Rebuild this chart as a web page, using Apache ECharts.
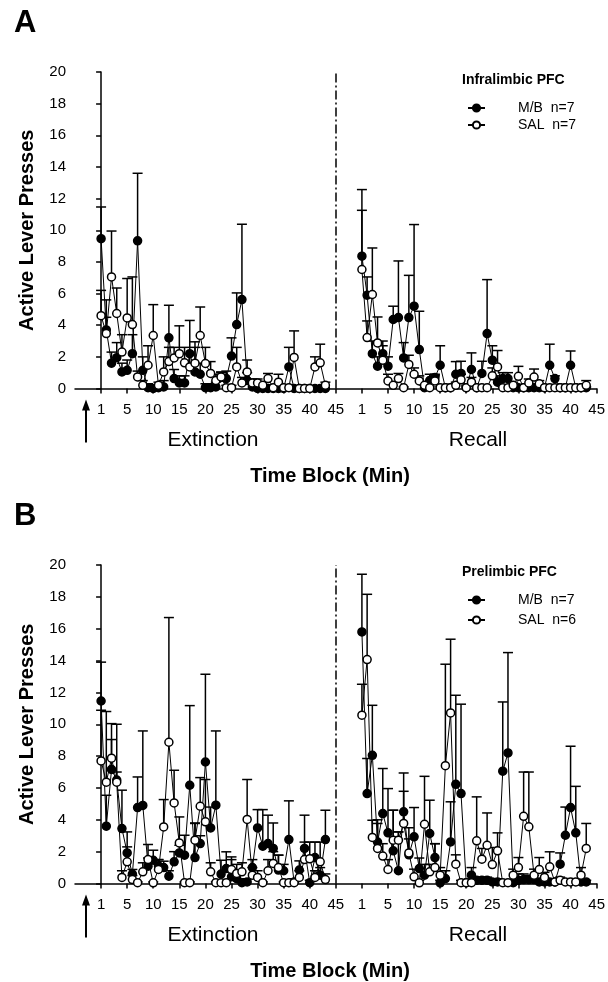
<!DOCTYPE html>
<html>
<head>
<meta charset="utf-8">
<script src="https://cdn.jsdelivr.net/npm/echarts@6.0.0/dist/echarts.min.js"></script>
<style>
  html, body { margin: 0; padding: 0; background: #fff; }
  #chart { width: 608px; height: 982px; }
</style>
</head>
<body>
<div id="chart"></div>
<script>
// time blocks (min) per phase
const blocks = Array.from({ length: 44 }, (_, i) => i + 1);
const tickLabels = ['1', '5', '10', '15', '20', '25', '30', '35', '40', '45'];
const phaseNames = ['Extinction', 'Recall'];

// Panel A - Infralimbic PFC
const extMB_A = [9.47, 3.7, 1.6, 1.95, 1.05, 1.15, 2.2, 9.33, 1.15, 0.05, 0, 0.05, 0.1, 3.2, 0.63, 0.35, 0.35, 2.2, 1.05, 0.9,
  0.05, 0.05, 0.1, 0.7, 0.63, 2.05, 4.04, 5.62, 0.5, 0.1, 0, 0, 0, 0, 0, 0, 1.36, 0, 0, 0, 0, 0, 0, 0];
const extMBHi_A = [11.47, 5.6, 2.3, 2.9, 1.6, 1.8, 3.4, 13.6, 2.0, 0.3, 0.2, 0.2, 0.5, 5.26, 1.2, 0.8, 0.8, 4.3, 2.95, 1.6,
  0.3, 0.3, 0.4, 1.0, 1.1, 3.2, 6.04, 10.38, 1.0, 0.3, 0, 0, 0, 0, 0, 0, 2.6, 0, 0, 0, 0, 0, 0, 0];
const extSAL_A = [4.6, 3.47, 7.05, 4.74, 2.3, 4.46, 4.04, 0.73, 0.2, 1.47, 3.35, 0.2, 1.05, 1.7, 1.93, 2.2, 1.62, 1.36, 1.6, 3.35,
  1.58, 0.95, 0.5, 0.73, 0.05, 0.05, 1.36, 0.35, 1.05, 0.35, 0.35, 0.2, 0.63, 0.05, 0.4, 0.05, 0.05, 1.96, 0, 0, 0, 1.36, 1.62, 0.2];
const extSALHi_A = [6.2, 4.5, 9.95, 6.35, 3.4, 6.95, 7.05, 1.1, 0.5, 2.7, 5.3, 0.4, 2.0, 2.6, 2.6, 3.96, 2.6, 2.2, 2.6, 5.15,
  2.6, 1.7, 0.9, 1.05, 0.2, 0.2, 2.6, 0.7, 1.8, 0.6, 0.6, 0.4, 0.95, 0.2, 0.9, 0.2, 0.2, 3.64, 0, 0, 0, 2.0, 2.8, 0.4];
const recMB_A = [8.36, 5.9, 2.2, 1.41, 2.2, 1.41, 4.36, 4.48, 1.93, 4.48, 5.2, 2.46, 0.05, 0.5, 0.7, 1.47, 0.05, 0.05, 0.9, 0.95,
  0.05, 1.2, 0.05, 0.95, 3.47, 1.79, 0.4, 0.63, 0.63, 0.05, 0.05, 0.05, 0.05, 0.05, 0.05, 0.05, 1.47, 0.63, 0.05, 0.05, 1.47, 0.05, 0.05, 0.05];
const recMBHi_A = [12.57, 7.05, 3.0, 2.0, 3.0, 2.0, 5.2, 8.06, 2.9, 7.15, 10.36, 4.88, 0.2, 0.9, 0.9, 2.7, 0.2, 0.2, 1.7, 1.72,
  0.2, 2.25, 0.2, 1.72, 6.88, 2.7, 0.8, 1.0, 1.0, 0.1, 0.1, 0.1, 0.1, 0.1, 0.1, 0.1, 2.8, 0.8, 0.1, 0.1, 2.37, 0.1, 0.1, 0.1];
const recSAL_A = [7.52, 3.22, 5.94, 2.88, 1.79, 0.48, 0.2, 0.63, 0.05, 1.52, 0.9, 0.48, 0.2, 0.05, 0.48, 0.05, 0.05, 0.05, 0.2, 0.55,
  0.05, 0.4, 0.05, 0.05, 0.05, 0.8, 1.36, 0.05, 0.05, 0.2, 0.77, 0.05, 0.35, 0.72, 0.3, 0.05, 0.05, 0.05, 0.05, 0.05, 0.05, 0.05, 0.05, 0.2];
const recSALHi_A = [11.26, 4.27, 8.88, 4.52, 2.7, 0.9, 0.4, 0.95, 0.1, 2.1, 1.3, 0.8, 0.4, 0.1, 0.8, 0.1, 0.1, 0.1, 0.4, 0.9,
  0.1, 0.7, 0.1, 0.1, 0.1, 1.3, 2.4, 0.1, 0.1, 0.4, 1.4, 0.1, 0.6, 1.23, 0.5, 0.1, 0.1, 0.1, 0.1, 0.1, 0.1, 0.1, 0.1, 0.5];

// Panel B - Prelimbic PFC
const extMB_B = [11.46, 3.6, 7.16, 6.5, 3.45, 1.92, 0.59, 4.77, 4.9, 1.09, 1.46, 1.1, 1.0, 0.46, 1.36, 1.92, 1.78, 6.17, 1.63, 2.51,
  7.63, 3.49, 4.92, 0.59, 0.94, 0.42, 0.3, 0.05, 0.1, 1.0, 3.49, 2.34, 2.51, 2.2, 0.84, 0.8, 2.76, 0.1, 0.84, 2.2, 0.05, 1.63, 0.52, 2.76];
const extMBHi_B = [13.9, 5.54, 9.04, 7.0, 5.86, 3.24, 0.88, 6.69, 9.58, 1.6, 2.09, 1.5, 1.4, 0.8, 2.0, 2.4, 3.03, 11.17, 3.77, 3.0,
  13.14, 4.8, 9.58, 1.46, 1.99, 1.67, 0.6, 0.2, 0.3, 1.5, 4.64, 4.64, 4.29, 3.8, 1.78, 1.2, 5.19, 0.3, 1.42, 4.29, 0.2, 2.6, 1.0, 4.6];
const extSAL_B = [7.7, 6.36, 7.87, 6.36, 0.38, 1.36, 0.25, 0.05, 0.73, 1.5, 0.04, 0.88, 3.55, 8.87, 5.06, 2.55, 0.05, 0.05, 2.72, 4.85,
  3.87, 0.73, 0.05, 0.05, 0.05, 0.88, 0.63, 0.73, 4.02, 0.52, 0.38, 0.05, 0.8, 1.26, 1.0, 0.05, 0.05, 0.05, 0.38, 1.5, 1.55, 0.38, 1.36, 0.25];
const extSALHi_B = [10.88, 10.8, 10.04, 10.0, 0.8, 2.3, 0.5, 0.1, 1.3, 2.45, 0.1, 1.5, 5.27, 16.7, 7.11, 4.18, 0.1, 0.1, 3.8, 6.65,
  6.53, 1.3, 0.1, 0.1, 0.1, 1.5, 1.2, 1.3, 6.53, 1.0, 0.8, 0.1, 1.5, 2.0, 1.78, 0.1, 0.1, 0.1, 0.8, 2.6, 2.6, 0.8, 2.6, 0.6];
const recMB_B = [15.8, 5.65, 8.05, 2.6, 4.39, 3.18, 2.05, 0.8, 4.5, 1.8, 2.93, 0.94, 0.52, 3.14, 1.63, 0.04, 0.31, 2.61, 6.23, 5.65,
  0.05, 0.52, 0.2, 0.2, 0.2, 0.1, 0.1, 7.05, 8.2, 0.05, 0.2, 0.25, 0.25, 0.25, 0.1, 0.1, 0.1, 0.1, 1.21, 3.03, 4.77, 3.18, 0.1, 0.1];
const recMBHi_B = [19.42, 7.85, 11.19, 4.0, 7.22, 5.96, 4.6, 3.24, 6.94, 3.5, 4.77, 1.6, 1.2, 5.23, 2.5, 0.2, 0.8, 5.13, 11.82, 11.26,
  0.2, 1.0, 0.4, 0.4, 0.4, 0.3, 0.3, 11.4, 14.5, 0.2, 0.6, 0.6, 0.5, 0.5, 0.3, 0.3, 0.3, 0.3, 1.92, 4.8, 8.62, 6.1, 0.2, 0.2];
const recSAL_B = [10.57, 14.06, 2.89, 2.2, 1.72, 0.88, 2.72, 2.72, 3.77, 1.92, 0.42, 0.04, 3.72, 0.73, 1.0, 0.52, 7.4, 10.71, 1.21, 0.05,
  0.05, 0.05, 2.68, 1.53, 2.4, 1.19, 2.05, 0.05, 0.05, 0.52, 1.0, 4.22, 3.56, 0.52, 0.88, 0.38, 1.05, 0.1, 0.2, 0.1, 0.1, 0.1, 0.52, 2.2];
const recSALHi_B = [12.51, 18.16, 3.97, 3.77, 2.5, 1.5, 4.6, 3.24, 5.79, 2.8, 0.9, 0.2, 6.73, 1.2, 2.5, 1.0, 13.77, 15.34, 1.8, 0.2,
  0.2, 0.2, 5.44, 2.2, 4.43, 2.26, 3.18, 0.2, 0.2, 0.9, 1.63, 7.0, 7.0, 0.9, 1.63, 0.7, 1.99, 0.3, 0.4, 0.2, 0.2, 0.2, 1.0, 3.77];

const panels = [
  { letter: 'A', region: 'Infralimbic PFC', n: { 'M/B': 7, 'SAL': 7 },
    mb: [extMB_A, recMB_A], mbHi: [extMBHi_A, recMBHi_A], sal: [extSAL_A, recSAL_A], salHi: [extSALHi_A, recSALHi_A] },
  { letter: 'B', region: 'Prelimbic PFC', n: { 'M/B': 7, 'SAL': 6 },
    mb: [extMB_B, recMB_B], mbHi: [extMBHi_B, recMBHi_B], sal: [extSAL_B, recSAL_B], salHi: [extSALHi_B, recSALHi_B] }
];

const FONT = 'Liberation Sans, Arial, sans-serif';
const gridTops = [72, 565];
const gridHeights = [316.5, 318.5];
const legendTops = [96, 588];
const legendGaps = [3, 6];
const recallOffset = 50;   // recall block 1 sits at axis value 50

function xPos(phase, b) { return phase === 0 ? b - 1 : b - 1 + recallOffset; }

const tickValues = [];
[0, 1].forEach(ph => tickLabels.forEach((t, i) => tickValues.push(ph * recallOffset + i * 5)));

function tickText(v) {
  if (v < 0) return '';
  const ph = v >= recallOffset ? 1 : 0;
  return tickLabels[(v - ph * recallOffset) / 5] || '';
}

function renderErr(params, api) {
  const x = api.value(0), y = api.value(1), hi = api.value(2);
  if (!(hi > y)) return null;
  const p0 = api.coord([x, y]);
  const p1 = api.coord([x, hi]);
  const st = { stroke: '#000', lineWidth: 1.5 };
  return {
    type: 'group',
    children: [
      { type: 'line', shape: { x1: p0[0], y1: p0[1], x2: p1[0], y2: p1[1] }, style: st },
      { type: 'line', shape: { x1: p1[0] - 5, y1: p1[1], x2: p1[0] + 5, y2: p1[1] }, style: st }
    ]
  };
}

const series = [];
panels.forEach((p, pi) => {
  const groups = [
    { name: 'M/B', vals: p.mb, hi: p.mbHi, fill: '#000' },
    { name: 'SAL', vals: p.sal, hi: p.salHi, fill: '#fff' }
  ];
  groups.forEach(g => {
    [0, 1].forEach(ph => {
      series.push({
        type: 'custom', xAxisIndex: pi, yAxisIndex: pi, z: 1, silent: true,
        renderItem: renderErr,
        encode: { x: 0, y: [1, 2] },
        data: blocks.map((b, i) => [xPos(ph, b), g.vals[ph][i], g.hi[ph][i]])
      });
    });
  });
  groups.forEach((g, gi) => {
    [0, 1].forEach(ph => {
      const s = {
        name: g.name, type: 'line', xAxisIndex: pi, yAxisIndex: pi, z: 2 + gi,
        symbol: 'circle', symbolSize: 8, showAllSymbol: true,
        lineStyle: { color: '#000', width: 1 },
        itemStyle: { color: g.fill, borderColor: '#000', borderWidth: 1.5 },
        data: blocks.map((b, i) => [xPos(ph, b), g.vals[ph][i]])
      };
      if (gi === 0 && ph === 0) {
        s.markLine = {
          silent: true, symbol: 'none', label: { show: false },
          lineStyle: { color: '#000', width: 1.5, type: [9, 3, 2, 3] },
          data: [{ xAxis: 45 }]
        };
      }
      series.push(s);
    });
  });
});

const graphic = [];
panels.forEach((p, pi) => {
  const top = gridTops[pi];
  const bottom = top + gridHeights[pi];
  graphic.push({ type: 'text', left: 14, top: top - 64, style: { text: p.letter, font: 'bold 31px ' + FONT, fill: '#000' } });
  graphic.push({ type: 'text', left: 462, top: legendTops[pi] - 23, style: { text: p.region, font: 'bold 14px ' + FONT, fill: '#000' } });
  graphic.push({ type: 'text', x: 213, y: bottom + 52, style: { text: phaseNames[0], font: '21px ' + FONT, fill: '#000', align: 'center', verticalAlign: 'middle' } });
  graphic.push({ type: 'text', x: 478, y: bottom + 52, style: { text: phaseNames[1], font: '21px ' + FONT, fill: '#000', align: 'center', verticalAlign: 'middle' } });
  graphic.push({ type: 'text', x: 330, y: bottom + 88, style: { text: 'Time Block (Min)', font: 'bold 20px ' + FONT, fill: '#000', align: 'center', verticalAlign: 'middle' } });
  graphic.push({ type: 'line', shape: { x1: 86, y1: bottom + 54, x2: 86, y2: bottom + 18 }, style: { stroke: '#000', lineWidth: 2 } });
  graphic.push({ type: 'polygon', shape: { points: [[82, bottom + 22], [86, bottom + 11], [90, bottom + 22]] }, style: { fill: '#000' } });
});

const option = {
  animation: false,
  backgroundColor: '#fff',
  textStyle: { fontFamily: FONT },
  grid: [0, 1].map(i => ({ left: 75, top: gridTops[i], width: 522, height: gridHeights[i] })),
  xAxis: [0, 1].map(i => ({
    type: 'value', gridIndex: i, min: -5, max: 95, interval: 5,
    splitLine: { show: false },
    axisLine: { lineStyle: { color: '#000', width: 1.5 } },
    axisTick: { length: 5, lineStyle: { color: '#000', width: 1.5 }, customValues: tickValues },
    axisLabel: { color: '#000', fontSize: 15, margin: 14, formatter: tickText, customValues: tickValues }
  })),
  yAxis: [0, 1].map(i => ({
    type: 'value', gridIndex: i, min: 0, max: 20, interval: 2,
    name: 'Active Lever Presses', nameLocation: 'middle', nameGap: 38,
    nameTextStyle: { color: '#000', fontSize: 20, fontWeight: 'bold' },
    splitLine: { show: false },
    axisLine: { show: true, lineStyle: { color: '#000', width: 1.5 } },
    axisTick: { show: true, length: 5, lineStyle: { color: '#000', width: 1.5 } },
    axisLabel: { color: '#000', fontSize: 15, margin: 9 }
  })),
  legend: panels.map((p, pi) => ({
    left: 462, top: legendTops[pi], orient: 'vertical',
    itemWidth: 17, itemHeight: 9, itemGap: legendGaps[pi],
    data: ['M/B', 'SAL'],
    formatter: name => name + '  n=' + p.n[name],
    textStyle: { color: '#000', fontSize: 14, padding: [0, 0, 0, 28] }
  })),
  graphic: graphic,
  series: series
};

const chart = echarts.init(document.getElementById('chart'), null, { renderer: 'canvas' });
chart.setOption(option);
</script>
</body>
</html>
